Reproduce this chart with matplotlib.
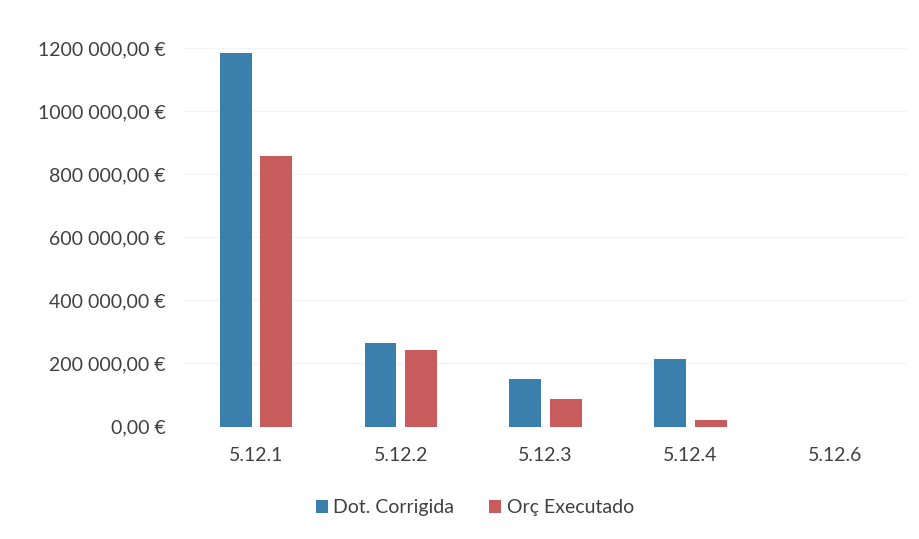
import matplotlib
matplotlib.use("Agg")
import matplotlib.pyplot as plt
import numpy as np
from matplotlib.ticker import FuncFormatter

categories = ["5.12.1", "5.12.2", "5.12.3", "5.12.4", "5.12.6"]
dot_corrigida = [1184000, 265000, 150000, 214000, 0]
orc_executado = [857000, 243000, 87000, 21000, 0]
y_ticks = [0, 200000, 400000, 600000, 800000, 1000000, 1200000]

plt.rcParams['font.family'] = ['Lato', 'DejaVu Sans']

fig = plt.figure(figsize=(9.2, 5.39), dpi=100)
ax = fig.add_axes([183.5/920, 1 - 426.5/539, 724/920, (426.5-48)/539])

x = np.arange(len(categories))
w = 0.22
blue = "#3b80ad"
red = "#c85b5b"
ax.bar(x - 0.14, dot_corrigida, width=w, color=blue, label="Dot. Corrigida", zorder=3)
ax.bar(x + 0.14, orc_executado, width=w, color=red, label="Orç Executado", zorder=3)

ax.set_xlim(-0.5, len(categories) - 0.5)
ax.set_ylim(0, 1200000)
ax.set_yticks(y_ticks)

def fmt(v, pos):
    if v == 0:
        return "0,00 €"
    s = f"{int(v):,}".replace(",", " ")
    if v >= 1000000:
        s = s.replace(" ", "", 1)
    return s + ",00 €"

ax.yaxis.set_major_formatter(FuncFormatter(fmt))
ax.set_xticks(x)
ax.set_xticklabels(categories)
ax.tick_params(axis='both', length=0, labelsize=14, colors="#404040")
ax.tick_params(axis='y', pad=13)
ax.tick_params(axis='x', pad=15)
ax.grid(axis='y', color="#f3f3f3", linewidth=0.8, zorder=0)
for s in ax.spines.values():
    s.set_visible(False)
ax.axhline(0, color="#ececec", linewidth=0.8, zorder=2)

leg = fig.legend(loc="center", bbox_to_anchor=(475/920, 1 - 508/539), ncol=2, frameon=False,
                 fontsize=14, handlelength=0.6, handleheight=0.6, handletextpad=0.3,
                 columnspacing=1.8)
for t in leg.get_texts():
    t.set_color("#404040")

fig.savefig("out.png", dpi=100)
